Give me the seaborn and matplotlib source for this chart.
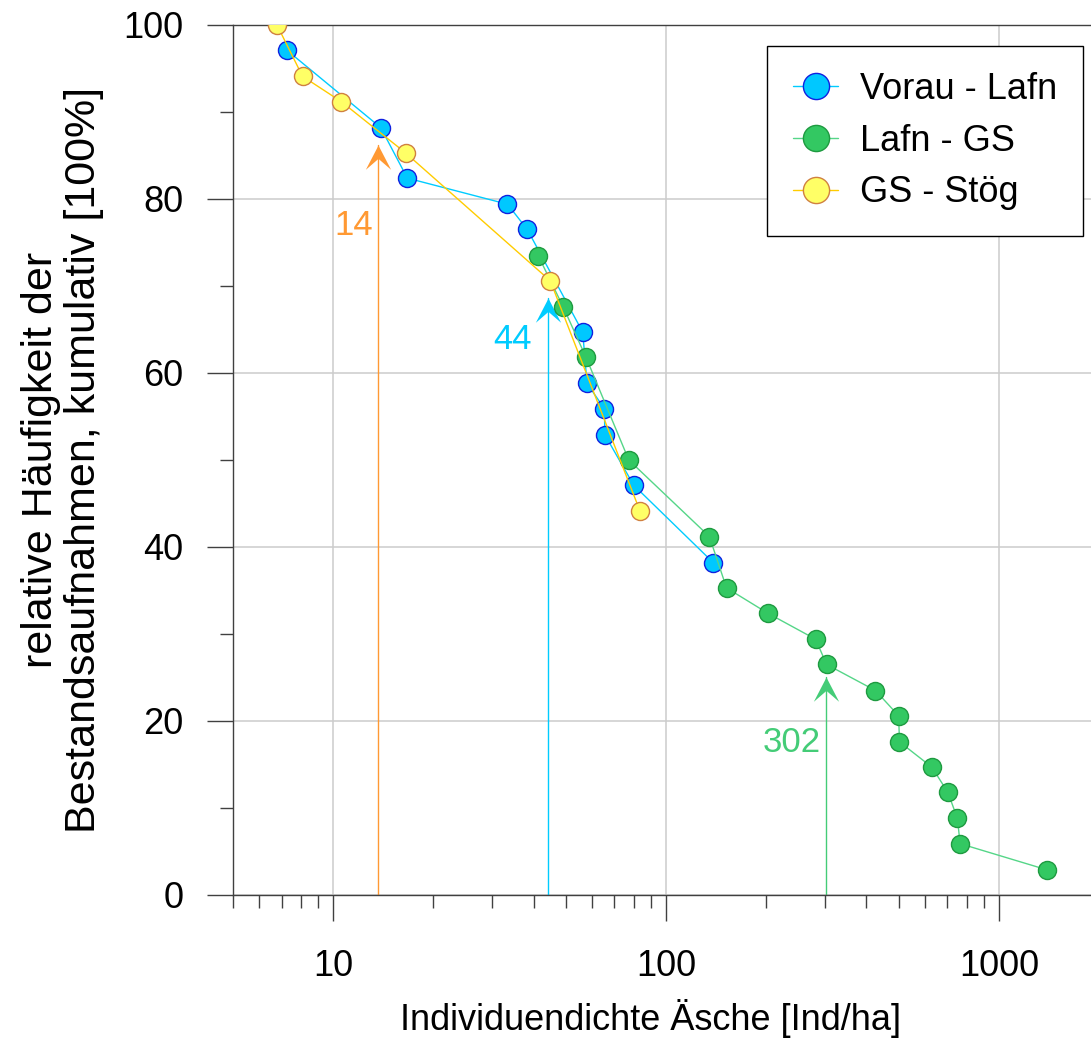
import numpy as np
import pandas as pd
import matplotlib
matplotlib.use("Agg")
import matplotlib.pyplot as plt
import seaborn as sns
from matplotlib.path import Path
from matplotlib.ticker import FixedLocator, FuncFormatter, NullFormatter

# ---------------- data ----------------
series_names = ["Vorau - Lafn", "Lafn - GS", "GS - Stög"]

vorau_x = [7.26, 13.9, 16.7, 33.4, 38.3, 56.2, 57.9, 65.3, 65.5, 80.0, 138.7]
vorau_y = [97.1, 88.2, 82.4, 79.4, 76.5, 64.7, 58.8, 55.9, 52.9, 47.1, 38.2]

lafn_x = [41.3, 49.1, 57.5, 77.3, 135.0, 152.0, 202.0, 281.5, 303.8, 426.0,
          500.0, 503.0, 629.0, 703.0, 751.0, 765.0, 1393.0]
lafn_y = [73.5, 67.6, 61.8, 50.0, 41.2, 35.3, 32.4, 29.4, 26.5, 23.5,
          20.6, 17.6, 14.7, 11.8, 8.8, 5.9, 2.9]

gs_x = [6.78, 8.09, 10.57, 16.5, 44.9, 83.6]
gs_y = [100.0, 94.1, 91.2, 85.3, 70.6, 44.1]

median_x = [13.6, 44.2, 302.0]
median_tip_y = [86.2, 68.6, 25.1]
median_labels = ["14", "44", "302"]

x_major = [10, 100, 1000]
y_major = [0, 20, 40, 60, 80, 100]
y_minor = [10, 30, 50, 70, 90]

# ---------------- styling ----------------
line_colors = ["#00CCFF", "#55D688", "#FFCC00"]
face_colors = ["#00C8FF", "#33C862", "#FFFF66"]
edge_colors = ["#1020E0", "#1E9A40", "#D08040"]
median_colors = ["#FF9933", "#00CCFF", "#44CC77"]
# label placement (x factor relative to line, y centre)
label_xfac = [0.97, 0.896, 0.967]
label_yc = [77.0, 63.9, 17.5]

sns.set_theme(style="white")
plt.rcParams["font.family"] = ["Liberation Sans", "DejaVu Sans"]
plt.rcParams["text.color"] = "black"
plt.rcParams["axes.labelcolor"] = "black"
plt.rcParams["xtick.color"] = "black"
plt.rcParams["ytick.color"] = "black"

df = pd.concat([
    pd.DataFrame({"x": vorau_x, "y": vorau_y, "series": series_names[0]}),
    pd.DataFrame({"x": lafn_x, "y": lafn_y, "series": series_names[1]}),
    pd.DataFrame({"x": gs_x, "y": gs_y, "series": series_names[2]}),
], ignore_index=True)

W, H = 1091, 1044
fig = plt.figure(figsize=(W / 100, H / 100), dpi=100)
ax = fig.add_axes([233 / W, 149 / H, 866 / W, 870 / H])

ax.set_xscale("log")
ax.set_xlim(5, 2000)
ax.set_ylim(0, 100)

# median arrows
arrow_path = Path([(0, 0), (-0.52, -1), (0, -0.55), (0.52, -1), (0, 0)],
                  [Path.MOVETO, Path.LINETO, Path.LINETO, Path.LINETO, Path.CLOSEPOLY])
for mx, my, lab, c, fx, yc in zip(median_x, median_tip_y, median_labels,
                                  median_colors, label_xfac, label_yc):
    ax.plot([mx, mx], [0, my], color=c, lw=1.0, zorder=2)
    ax.plot([mx], [my], marker=arrow_path, markersize=35, color=c,
            markeredgewidth=0, zorder=2, linestyle="none")
    ax.text(mx * fx, yc, lab, color=c, fontsize=25, ha="right", va="center")

for name, lc, fc, ec in zip(series_names, line_colors, face_colors, edge_colors):
    sns.lineplot(data=df[df["series"] == name], x="x", y="y", sort=False,
                 estimator=None, color=lc, lw=1.0, marker="o", markersize=13,
                 markerfacecolor=fc, markeredgecolor=ec, markeredgewidth=1.0,
                 label=name, ax=ax, zorder=3)

# axes / ticks
ax.xaxis.set_major_locator(FixedLocator(x_major))
ax.xaxis.set_major_formatter(FuncFormatter(lambda v, p: f"{v:g}"))
minor_x = [m * d for d in (1, 10, 100) for m in range(2, 10)]
minor_x = [v for v in minor_x if v not in x_major] + [5]
ax.xaxis.set_minor_locator(FixedLocator(sorted(set(minor_x))))
ax.xaxis.set_minor_formatter(NullFormatter())
ax.yaxis.set_major_locator(FixedLocator(y_major))
ax.yaxis.set_minor_locator(FixedLocator(y_minor))

axis_col = "#404040"
ax.tick_params(axis="both", which="major", direction="out", length=18.7,
               width=1.0, color=axis_col, labelsize=26, labelcolor="black")
ax.tick_params(axis="both", which="minor", direction="out", length=9.5,
               width=1.0, color=axis_col)
ax.tick_params(axis="x", which="major", pad=20)
ax.tick_params(axis="y", which="major", pad=17)
ax.tick_params(axis="both", which="both", bottom=True, left=True)

for s in ax.spines.values():
    s.set_color(axis_col)
    s.set_linewidth(1.0)
    s.set_visible(True)

ax.grid(True, which="major", color="#CCCCCC", lw=1.1, zorder=0)
ax.set_axisbelow(True)

ax.set_xlabel("Individuendichte Äsche [Ind/ha]", fontsize=26, labelpad=11)
ax.xaxis.set_label_coords((651 - 233) / 866, -0.0, transform=None) if False else None
ax.xaxis.label.set_x((651 - 233) / 866)
ax.set_ylabel("relative Häufigkeit der\nBestandsaufnahmen, kumulativ [100%]",
              fontsize=31, labelpad=14, linespacing=1.1)

leg = ax.legend(loc="upper right", bbox_to_anchor=(1083 / W, 1 - 46 / H),
                bbox_transform=fig.transFigure, borderaxespad=0,
                fontsize=26, frameon=True, fancybox=False, framealpha=1,
                edgecolor="black", borderpad=0.72, handlelength=1.25,
                handletextpad=0.6, labelspacing=0.46, markerscale=1.45)
leg.get_frame().set_linewidth(1.0)
for t in leg.get_texts():
    t.set_color("black")

fig.savefig("out.png", dpi=100)
